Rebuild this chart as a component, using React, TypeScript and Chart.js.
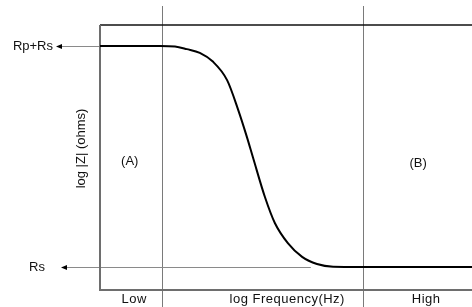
import React, { useEffect, useRef } from "react";
import { Chart, registerables } from "chart.js";

Chart.register(...registerables);

// log frequency (arbitrary units) and log |Z| (arbitrary units)
const logFreq = [0, 0.97, 1.21, 1.4, 1.61, 1.82, 2.05, 2.23, 2.37, 2.47, 2.66, 2.82, 3.03, 3.26, 3.5, 3.76, 4.2, 6.0];
const logZ = [9.21, 9.21, 9.19, 9.09, 8.95, 8.62, 7.92, 6.79, 5.77, 4.98, 3.51, 2.53, 1.77, 1.25, 0.98, 0.88, 0.87, 0.87];

const levelLabels = ["Rp+Rs", "Rs"];
const levelValues = [9.21, 0.87];
const levelArrowEnd = [0, 3.4]; // where the arrow line starts inside the plot (x units)

const dividers = [1.0, 4.24];

const xLabels = ["Low", "log Frequency(Hz)", "High"];
const xLabelPos = [0.55, 3.02, 5.26];

const regionLabels = ["(A)", "(B)"];
const regionX = [0.48, 5.13];
const regionY = [4.87, 4.79];

const yTitle = "log |Z| (ohms)";

const FONT = '13px "Liberation Sans", Arial, sans-serif';

const overlay = {
  id: "overlay",
  beforeDatasetsDraw(chart: any) {
    const { ctx, chartArea, scales } = chart;
    const xs = scales.x;
    const ys = scales.y;
    ctx.save();
    // divider lines
    ctx.strokeStyle = "#7a7a7a";
    ctx.lineWidth = 1;
    dividers.forEach((d) => {
      const px = Math.round(xs.getPixelForValue(d)) + 0.5;
      ctx.beginPath();
      ctx.moveTo(px, 6);
      ctx.lineTo(px, chart.height);
      ctx.stroke();
    });
    // level arrows
    levelValues.forEach((v, i) => {
      const py = Math.round(ys.getPixelForValue(v)) + 0.5;
      const startX = xs.getPixelForValue(levelArrowEnd[i]);
      const tipX = i === 0 ? 56 : 61;
      ctx.strokeStyle = "#8a8a8a";
      ctx.lineWidth = 1;
      ctx.beginPath();
      ctx.moveTo(startX, py);
      ctx.lineTo(tipX + 4, py);
      ctx.stroke();
      ctx.fillStyle = "#000";
      ctx.beginPath();
      ctx.moveTo(tipX, py);
      ctx.lineTo(tipX + 6, py - 2.5);
      ctx.lineTo(tipX + 6, py + 2.5);
      ctx.closePath();
      ctx.fill();
    });
    // top border
    ctx.strokeStyle = "#111";
    ctx.lineWidth = 1.5;
    ctx.beginPath();
    ctx.moveTo(chartArea.left, chartArea.top);
    ctx.lineTo(chartArea.right, chartArea.top);
    ctx.stroke();
    // left & bottom axes
    ctx.strokeStyle = "#6e6e6e";
    ctx.lineWidth = 2;
    ctx.beginPath();
    ctx.moveTo(chartArea.left, chartArea.top);
    ctx.lineTo(chartArea.left, chartArea.bottom);
    ctx.lineTo(chartArea.right, chartArea.bottom);
    ctx.stroke();
    ctx.restore();
  },
  afterDraw(chart: any) {
    const { ctx, chartArea, scales } = chart;
    const xs = scales.x;
    const ys = scales.y;
    ctx.save();
    ctx.font = FONT;
    ctx.fillStyle = "#111";
    ctx.textBaseline = "middle";
    // level labels
    ctx.textAlign = "right";
    levelLabels.forEach((t, i) => {
      const py = ys.getPixelForValue(levelValues[i]);
      ctx.fillText(t, i === 0 ? 53 : 45, py);
    });
    // x labels
    ctx.textAlign = "center";
    ctx.save();
    try { (ctx as any).letterSpacing = "0.5px"; } catch (e) {}
    xLabels.forEach((t, i) => {
      ctx.fillText(t, xs.getPixelForValue(xLabelPos[i]), chartArea.bottom + 9);
    });
    ctx.restore();
    // region labels
    regionLabels.forEach((t, i) => {
      ctx.fillText(t, xs.getPixelForValue(regionX[i]), ys.getPixelForValue(regionY[i]));
    });
    // y title
    ctx.translate(81, (chartArea.top + chartArea.bottom) / 2 - 9);
    ctx.rotate(-Math.PI / 2);
    ctx.fillText(yTitle, 0, 0);
    ctx.restore();
  },
};

export default function App() {
  const ref = useRef<HTMLCanvasElement>(null);
  useEffect(() => {
    document.body.style.margin = "0";
    const chart = new Chart(ref.current!, {
      type: "line",
      data: {
        datasets: [
          {
            data: logFreq.map((x, i) => ({ x, y: logZ[i] })),
            borderColor: "#000",
            borderWidth: 2,
            pointRadius: 0,
            tension: 0,
            cubicInterpolationMode: "monotone",
            fill: false,
          },
        ],
      },
      options: {
        animation: false,
        responsive: false,
        events: [],
        layout: { padding: { left: 100, right: 0, top: 25, bottom: 17 } },
        plugins: { legend: { display: false }, tooltip: { enabled: false } },
        scales: {
          x: { type: "linear", min: 0, max: 6, display: false },
          y: { type: "linear", min: 0, max: 10, display: false },
        },
      },
      plugins: [overlay],
    });
    return () => chart.destroy();
  }, []);
  return (
    <div style={{ width: 472, height: 307, background: "#fff" }}>
      <canvas ref={ref} width={472} height={307} style={{ display: "block" }} />
    </div>
  );
}
